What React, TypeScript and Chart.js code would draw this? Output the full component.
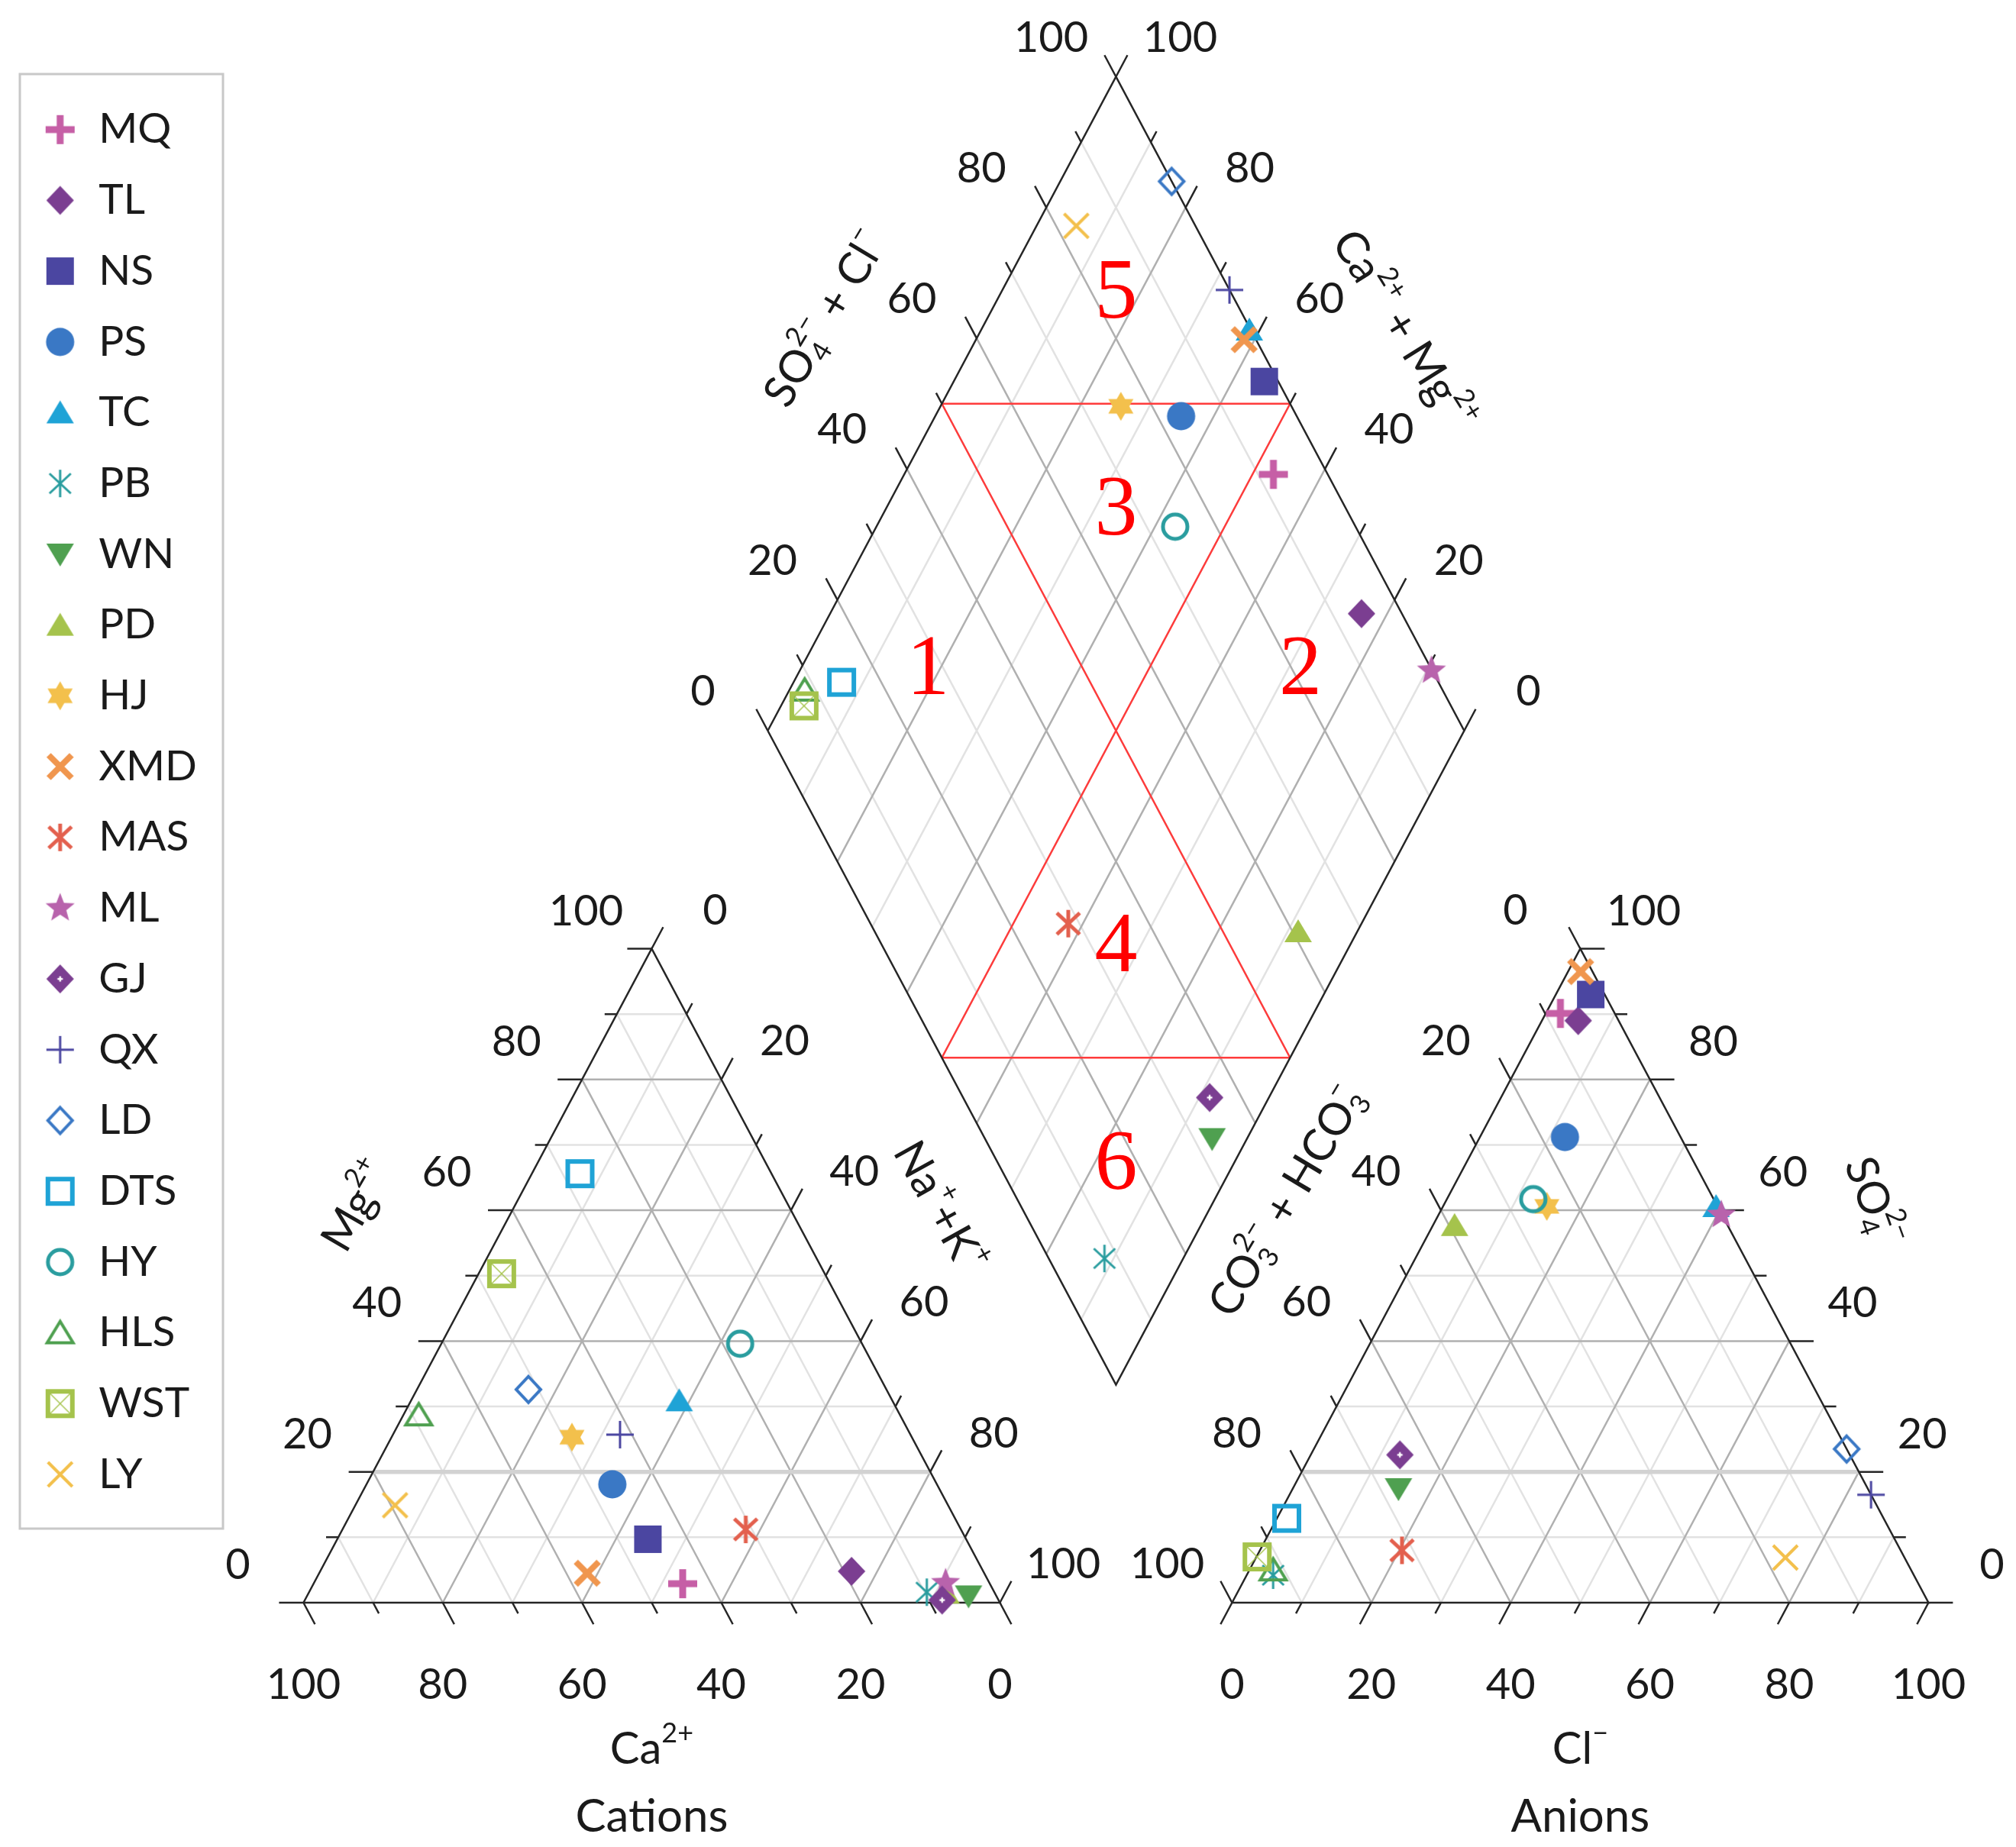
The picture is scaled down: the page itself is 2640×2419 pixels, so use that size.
import React, { useEffect, useRef } from 'react';
import { Chart, registerables } from 'chart.js';

Chart.register(...registerables);

// ---------------- data ----------------
const samples = ['MQ', 'TL', 'NS', 'PS', 'TC', 'PB', 'WN', 'PD', 'HJ', 'XMD', 'MAS', 'ML', 'GJ', 'QX', 'LD', 'DTS', 'HY', 'HLS', 'WST', 'LY'];
// cations (% meq)
const caPct = [44.1, 18.9, 45.7, 46.6, 30.6, 9.7, 4.0, 7.0, 48.8, 57.0, 30.9, 6.3, 8.1, 41.7, 51.4, 27.5, 17.5, 69.1, 46.4, 79.4];
const mgPct = [2.9, 4.8, 9.7, 18.1, 30.9, 1.6, 1.0, 1.5, 25.3, 4.5, 11.2, 3.0, 0.4, 25.7, 32.6, 65.6, 39.6, 28.7, 50.3, 14.9];
const naKPct = [53.0, 76.3, 44.6, 35.3, 38.5, 88.7, 95.0, 91.5, 25.9, 38.5, 57.9, 90.7, 91.5, 32.6, 16.0, 6.9, 42.9, 2.2, 3.3, 5.7];
// anions (% meq)
const clPct = [2.1, 5.2, 5.0, 12.2, 39.2, 3.8, 15.2, 3.1, 14.9, 1.8, 20.4, 40.6, 12.8, 83.5, 76.5, 1.4, 12.4, 3.4, 0.1, 76.0];
const so4Pct = [90.1, 89.0, 93.0, 71.2, 60.6, 4.2, 17.4, 57.7, 60.6, 96.5, 8.0, 59.3, 22.6, 16.5, 23.5, 12.9, 61.7, 5.0, 7.0, 6.9];
const hco3Pct = [7.8, 5.8, 2.0, 16.6, 0.2, 92.0, 67.4, 39.2, 24.5, 1.7, 71.6, 0.1, 64.6, 0.0, 0.0, 85.7, 25.9, 91.6, 92.9, 17.1];

const tickValues = [0, 20, 40, 60, 80, 100];
const tickLabels = ['0', '20', '40', '60', '80', '100'];
const gridValues = [10, 20, 30, 40, 50, 60, 70, 80, 90];
const tickMarkValues = [0, 10, 20, 30, 40, 50, 60, 70, 80, 90, 100];
const zoneLabels = ['1', '2', '3', '4', '5', '6'];

// ---------------- styles / layout ----------------
const markerStyles: [string, string][] = [
  ['plusBold', '#c65fa6'], ['diamond', '#7b3e91'], ['square', '#4b46a1'], ['circle', '#3a78c5'],
  ['triUp', '#1fa3d6'], ['asterThin', '#2a9d9f'], ['triDown', '#4fa050'], ['triUp', '#a5c34c'],
  ['hexagram', '#f3c04c'], ['xBold', '#f0964e'], ['asterBold', '#e3604e'], ['star5', '#b863ac'],
  ['diamondDot', '#7b3e91'], ['plusThin', '#4b46a1'], ['diamondOpen', '#3a78c5'], ['squareOpen', '#1fa3d6'],
  ['circleOpen', '#2a9d9f'], ['triOpen', '#4fa050'], ['squareX', '#a5c34c'], ['xThin', '#f3c04c'],
];
const zonePos = [[27.5, 18.5], [81, 72], [66.7, 33.3], [33.3, 66.7], [83.3, 16.7], [16.7, 83.3]]; // diamond (a, n)

const W = 2624, H = 2403;
const SX = 9.12, SY = 8.565;          // px per unit
const OX = 389.4, OY = 2091;          // canvas px of the cation triangle's left corner
const FONT = 'Lato, "Open Sans", "DejaVu Sans", sans-serif';
const SERIF = '"Liberation Serif", "DejaVu Serif", serif';
const OFF = 400 / 3;                   // anion triangle offset (100 + gap)
const LEGEND_SHIFT = 5;                // px shift of legend symbols

const catPt = (m: number, n: number) => ({ x: n + m / 2, y: m });
const anPt = (c: number, s: number) => ({ x: OFF + c + s / 2, y: s });
const diaPt = (a: number, n: number) => ({ x: 200 / 3 + (a + n) / 2, y: 400 / 3 + a - n });

function buildLines() {
  const minor: any[] = [], major: any[] = [], hl: any[] = [], frame: any[] = [], ticks: any[] = [], red: any[] = [];
  const seg = (list: any[], p: any, q: any) => { list.push(p, q, { x: NaN, y: NaN }); };
  const poly = (list: any[], pts: any[]) => { pts.forEach((p) => list.push(p)); list.push({ x: NaN, y: NaN }); };
  const st = (v: number) => (v % 20 === 0 ? major : minor);
  const ext = (p: any, d: number[], px: number) => {
    const len = Math.hypot(d[0] * SX, d[1] * SY);
    return { x: p.x + (d[0] * px) / len, y: p.y + (d[1] * px) / len };
  };
  const tick = (p: any, d: number[], v: number) => seg(ticks, p, ext(p, d, v % 20 === 0 ? 32 : 16));

  gridValues.forEach((v) => {
    seg(v === 20 ? hl : st(v), catPt(v, 0), catPt(v, 100 - v));
    seg(st(v), catPt(0, v), catPt(100 - v, v));
    seg(st(v), catPt(0, 100 - v), catPt(100 - v, 0));
    seg(v === 20 ? hl : st(v), anPt(0, v), anPt(100 - v, v));
    seg(st(v), anPt(v, 0), anPt(v, 100 - v));
    seg(st(v), anPt(100 - v, 0), anPt(0, 100 - v));
    seg(st(v), diaPt(v, 0), diaPt(v, 100));
    seg(st(v), diaPt(0, v), diaPt(100, v));
  });
  tickMarkValues.forEach((v) => {
    tick(catPt(v, 0), [-1, 0], v);
    tick(catPt(100 - v, v), [0.5, 1], v);
    tick(catPt(0, 100 - v), [0.5, -1], v);
    tick(anPt(100 - v, v), [1, 0], v);
    tick(anPt(0, 100 - v), [-0.5, 1], v);
    tick(anPt(v, 0), [-0.5, -1], v);
    tick(diaPt(v, 0), [-0.5, 1], v);
    tick(diaPt(100, 100 - v), [0.5, 1], v);
  });
  poly(frame, [catPt(0, 0), catPt(100, 0), catPt(0, 100), catPt(0, 0)]);
  poly(frame, [anPt(0, 0), anPt(0, 100), anPt(100, 0), anPt(0, 0)]);
  poly(frame, [diaPt(0, 0), diaPt(100, 0), diaPt(100, 100), diaPt(0, 100), diaPt(0, 0)]);
  seg(red, diaPt(50, 0), diaPt(50, 100));
  seg(red, diaPt(0, 50), diaPt(100, 50));
  seg(red, diaPt(50, 0), diaPt(100, 50));
  seg(red, diaPt(0, 50), diaPt(50, 100));
  return { minor, major, hl, frame, ticks, red };
}

function markerCanvas(kind: string, color: string, dx = 0): HTMLCanvasElement {
  const S = 48;
  const cv = document.createElement('canvas');
  cv.width = S + 2 * dx; cv.height = S;
  const c = cv.getContext('2d') as CanvasRenderingContext2D;
  c.translate(S / 2 + 2 * dx, S / 2);
  c.fillStyle = color; c.strokeStyle = color; c.lineJoin = 'miter'; c.lineCap = 'butt';
  const path = (pts: number[][]) => { c.beginPath(); pts.forEach((p, i) => (i ? c.lineTo(p[0], p[1]) : c.moveTo(p[0], p[1]))); c.closePath(); };
  const line = (x1: number, y1: number, x2: number, y2: number) => { c.beginPath(); c.moveTo(x1, y1); c.lineTo(x2, y2); c.stroke(); };
  const star = (n: number, R: number, r: number) => {
    const pts: number[][] = [];
    for (let i = 0; i < 2 * n; i++) { const a = -Math.PI / 2 + (i * Math.PI) / n; const rr = i % 2 ? r : R; pts.push([rr * Math.cos(a), rr * Math.sin(a)]); }
    path(pts);
  };
  switch (kind) {
    case 'plusBold': c.fillRect(-19, -4.5, 38, 9); c.fillRect(-4.5, -19, 9, 38); break;
    case 'diamond': path([[0, -19], [18, 0], [0, 19], [-18, 0]]); c.fill(); break;
    case 'square': c.fillRect(-18, -18, 36, 36); break;
    case 'circle': c.beginPath(); c.arc(0, 0, 18.5, 0, Math.PI * 2); c.fill(); break;
    case 'triUp': path([[0, -16], [18, 14], [-18, 14]]); c.fill(); break;
    case 'asterThin': c.lineWidth = 3; line(0, -18, 0, 18); line(-14, -13, 14, 13); line(-14, 13, 14, -13); break;
    case 'triDown': path([[0, 16], [18, -14], [-18, -14]]); c.fill(); break;
    case 'hexagram': {
      const R = 19;
      const tri = (o: number) => path([0, 1, 2].map((k) => { const a = o + (k * 2 * Math.PI) / 3; return [R * Math.cos(a), R * Math.sin(a)]; }));
      tri(-Math.PI / 2); c.fill(); tri(Math.PI / 2); c.fill(); break;
    }
    case 'xBold': c.lineWidth = 8; line(-15, -15, 15, 15); line(-15, 15, 15, -15); break;
    case 'asterBold': c.lineWidth = 5; line(0, -18, 0, 18); line(-15, -14, 15, 14); line(-15, 14, 15, -14); break;
    case 'star5': star(5, 20, 8.5); c.fill(); break;
    case 'diamondDot': path([[0, -19], [18, 0], [0, 19], [-18, 0]]); c.fill(); c.fillStyle = '#ffffff'; c.fillRect(-3.5, -1.2, 7, 2.4); c.fillRect(-1.2, -3.5, 2.4, 7); break;
    case 'plusThin': c.lineWidth = 3; line(-18, 0, 18, 0); line(0, -18, 0, 18); break;
    case 'diamondOpen': c.lineWidth = 4; path([[0, -17], [16, 0], [0, 17], [-16, 0]]); c.stroke(); break;
    case 'squareOpen': c.lineWidth = 6; c.strokeRect(-16, -16, 32, 32); break;
    case 'circleOpen': c.lineWidth = 5; c.beginPath(); c.arc(0, 0, 16, 0, Math.PI * 2); c.stroke(); break;
    case 'triOpen': c.lineWidth = 4; path([[0, -15], [17, 13], [-17, 13]]); c.stroke(); break;
    case 'squareX': c.lineWidth = 6; c.strokeRect(-16, -16, 32, 32); c.lineWidth = 1.5; line(-13, -13, 13, 13); line(-13, 13, 13, -13); break;
    case 'xThin': c.lineWidth = 4; line(-16, -16, 16, 16); line(-16, 16, 16, -16); break;
  }
  return cv;
}

type Seg = string | { sub?: string; sup?: string };
function drawRich(ctx: CanvasRenderingContext2D, segs: Seg[], x: number, y: number, deg: number, size: number) {
  const small = size * 0.62;
  const fN = `${size}px ${FONT}`, fS = `${small}px ${FONT}`;
  const widths = segs.map((s) => {
    if (typeof s === 'string') { ctx.font = fN; return ctx.measureText(s).width; }
    ctx.font = fS;
    return Math.max(s.sub ? ctx.measureText(s.sub).width : 0, s.sup ? ctx.measureText(s.sup).width : 0);
  });
  const total = widths.reduce((a, b) => a + b, 0);
  ctx.save();
  ctx.translate(x, y);
  ctx.rotate((deg * Math.PI) / 180);
  ctx.fillStyle = '#1a1a1a';
  ctx.textBaseline = 'middle';
  ctx.textAlign = 'left';
  let cx = -total / 2;
  segs.forEach((s, i) => {
    if (typeof s === 'string') { ctx.font = fN; ctx.fillText(s, cx, 0); }
    else {
      ctx.font = fS;
      if (s.sup) ctx.fillText(s.sup, cx, -size * 0.36);
      if (s.sub) ctx.fillText(s.sub, cx, size * 0.3);
    }
    cx += widths[i];
  });
  ctx.restore();
}

const overlayPlugin = {
  id: 'pipertext',
  afterDraw(chart: any) {
    const ctx: CanvasRenderingContext2D = chart.ctx;
    const xs = chart.scales.x, ys = chart.scales.y;
    const P = (p: any) => ({ x: xs.getPixelForValue(p.x), y: ys.getPixelForValue(p.y) });
    const U = (X: number, Y: number) => P({ x: X, y: Y });

    // legend frame
    ctx.save();
    ctx.strokeStyle = '#c8c8c8';
    ctx.lineWidth = 3;
    ctx.strokeRect(18, 89, 266, 1905);
    ctx.restore();

    // tick labels
    ctx.save();
    ctx.fillStyle = '#1a1a1a';
    ctx.font = `56px ${FONT}`;
    ctx.textAlign = 'center';
    ctx.textBaseline = 'middle';
    const lab = (p: any, dx: number, dy: number, t: string) => { const q = P(p); ctx.fillText(t, q.x + dx, q.y + dy); };
    tickValues.forEach((v, i) => {
      const t = tickLabels[i];
      lab(catPt(v, 0), -86, -49, t);
      lab(catPt(100 - v, v), 83, -50, t);
      lab(catPt(0, 100 - v), 0, 108, t);
      lab(anPt(v, 0), 0, 108, t);
      lab(anPt(0, 100 - v), -85, -50, t);
      lab(anPt(100 - v, v), 83, -49, t);
      lab(diaPt(v, 0), -85, -51, t);
      lab(diaPt(100, 100 - v), 84, -51, t);
    });
    ctx.restore();

    // zone numbers
    ctx.save();
    ctx.fillStyle = '#ff0000';
    ctx.font = `112px ${SERIF}`;
    ctx.textAlign = 'center';
    ctx.textBaseline = 'middle';
    zoneLabels.forEach((t, i) => { const q = P(diaPt(zonePos[i][0], zonePos[i][1])); ctx.fillText(t, q.x, q.y); });
    ctx.restore();

    // axis titles
    const T = (segs: Seg[], X: number, Y: number, deg: number, size = 58) => { const q = U(X, Y); drawRich(ctx, segs, q.x, q.y, deg, size); };
    T(['Mg', { sup: '2+' }], 7.7, 60.6, -60);
    T(['Na', { sup: '+' }, '+K', { sup: '+' }], 91.3, 60.5, 61);
    T(['CO', { sub: '3', sup: '2\u2212' }, ' + HCO', { sub: '3', sup: '\u2212' }], 141.2, 61.3, -59);
    T(['SO', { sub: '4', sup: '2\u2212' }], 225.4, 61.3, 70);
    T(['SO', { sub: '4', sup: '2\u2212' }, ' + Cl', { sup: '\u2212' }], 75.0, 196.3, -59);
    T(['Ca', { sup: '2+' }, ' + Mg', { sup: '2+' }], 157.9, 194.5, 58);
    T(['Ca', { sup: '2+' }], 50, -22.4, 0);
    T(['Cations'], 50, -32.8, 0, 60);
    T(['Cl', { sup: '\u2212' }], OFF + 50, -22.4, 0);
    T(['Anions'], OFF + 50, -32.8, 0, 60);
  },
};

export default function App() {
  const ref = useRef<HTMLCanvasElement | null>(null);
  useEffect(() => {
    if (!ref.current) return;
    const L = buildLines();
    const legendMarkers = markerStyles.map(([k, c]) => markerCanvas(k, c, LEGEND_SHIFT));
    const lineDs = (data: any[], color: string, width: number, order: number) => ({
      type: 'line', data, borderColor: color, borderWidth: width, pointRadius: 0, pointHoverRadius: 0, pointHitRadius: 0,
      fill: false, spanGaps: false, tension: 0, order, borderJoinStyle: 'miter', borderCapStyle: 'butt', clip: false,
    });
    const sampleDs = samples.map((name, i) => ({
      type: 'scatter',
      label: name,
      data: [catPt(mgPct[i], naKPct[i]), anPt(clPct[i], so4Pct[i]), diaPt(clPct[i] + so4Pct[i], naKPct[i])],
      pointStyle: markerCanvas(markerStyles[i][0], markerStyles[i][1]),
      pointRadius: 18,
      pointHoverRadius: 18,
      showLine: false,
      order: -i,
      clip: false,
    }));
    const datasets: any[] = [
      ...sampleDs,
      lineDs(L.minor, '#e2e2e2', 2.5, 100),
      lineDs(L.major, '#b0b0b0', 2.5, 99),
      lineDs(L.hl, '#d2d2d2', 5.5, 98),
      lineDs(L.red, '#ff3b3b', 2.5, 97),
      lineDs(L.frame, '#262626', 2.5, 96),
      lineDs(L.ticks, '#262626', 2.5, 95),
    ];
    const defaultLabels = (Chart as any).defaults.plugins.legend.labels.generateLabels;
    const chart = new Chart(ref.current, {
      type: 'scatter',
      data: { datasets },
      options: {
        responsive: false,
        animation: false,
        events: [],
        layout: { padding: 0, autoPadding: false },
        scales: {
          x: { type: 'linear', display: false, bounds: 'data', min: -OX / SX, max: (W - OX) / SX },
          y: { type: 'linear', display: false, bounds: 'data', min: (OY - H) / SY, max: OY / SY },
        },
        plugins: {
          tooltip: { enabled: false },
          legend: {
            display: true,
            position: 'chartArea',
            align: 'start',
            title: { display: true, text: '', padding: { top: 84.5, bottom: 0 }, font: { size: 10 } },
            labels: {
              usePointStyle: true,
              pointStyleWidth: 56,
              padding: 37.7,
              color: '#1a1a1a',
              font: { family: FONT, size: 55 },
              generateLabels: (ch: any) => {
                const items = defaultLabels(ch);
                items.forEach((it: any) => { if (it.datasetIndex < samples.length) it.pointStyle = legendMarkers[it.datasetIndex]; });
                return items;
              },
              filter: (item: any) => item.datasetIndex < samples.length,
              sort: (a: any, b: any) => a.datasetIndex - b.datasetIndex,
            },
          },
        },
      } as any,
      plugins: [overlayPlugin],
    } as any);
    return () => chart.destroy();
  }, []);
  return <canvas ref={ref} width={W} height={H} style={{ display: 'block', width: W + 'px', height: H + 'px' }} />;
}
